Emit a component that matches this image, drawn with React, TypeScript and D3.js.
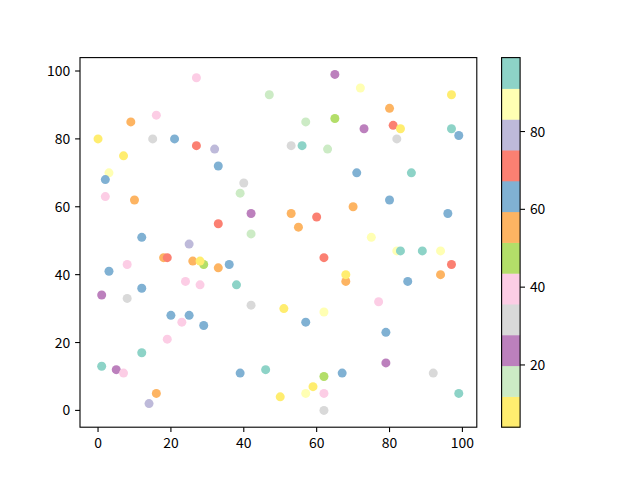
import { useEffect } from 'react';
import * as d3 from 'd3';

// scatter data: x, y and colour value c
const xs = [27, 16, 9, 0, 15, 21, 27, 32, 7, 33, 3, 2, 2, 10, 33, 12, 25, 65, 47, 57,
  65, 53, 56, 63, 40, 39, 42, 53, 60, 55, 42, 72, 97, 80, 73, 81, 83, 82, 97, 99,
  71, 86, 70, 80, 96, 75, 18, 19, 26, 29, 28, 33, 8, 3, 24, 28, 1, 8, 12, 20,
  25, 23, 29, 19, 12, 1, 5, 7, 16, 14, 36, 38, 42, 62, 68, 68, 51, 62, 57, 39,
  46, 62, 67, 59, 57, 62, 50, 62, 82, 83, 89, 94, 97, 94, 85, 77, 79, 79, 92, 99];
const ys = [98, 87, 85, 80, 80, 80, 78, 77, 75, 72, 70, 68, 63, 62, 55, 51, 49, 99, 93, 85,
  86, 78, 78, 77, 67, 64, 58, 58, 57, 54, 52, 95, 93, 89, 83, 84, 83, 80, 83, 81,
  70, 70, 60, 62, 58, 51, 45, 45, 44, 43, 44, 42, 43, 41, 38, 37, 34, 33, 36, 28,
  28, 26, 25, 21, 17, 13, 12, 11, 5, 2, 43, 37, 31, 45, 38, 40, 30, 29, 26, 11,
  12, 10, 11, 7, 5, 5, 4, 0, 47, 47, 47, 47, 43, 40, 38, 32, 23, 14, 11, 5];
const cs = [40, 38, 55, 4, 31, 62, 70, 80, 9, 64, 86, 61, 41, 57, 72, 65, 78, 23, 15, 17,
  47, 33, 94, 14, 29, 18, 25, 53, 69, 58, 13, 88, 7, 54, 21, 74, 10, 35, 97, 60,
  66, 92, 56, 63, 62, 85, 52, 73, 59, 45, 6, 55, 37, 67, 42, 39, 26, 30, 61, 64,
  60, 43, 65, 36, 93, 96, 22, 40, 57, 81, 62, 95, 34, 71, 53, 11, 5, 89, 63, 66,
  98, 49, 61, 8, 84, 41, 6, 28, 90, 99, 93, 87, 68, 58, 64, 38, 60, 27, 32, 96];

const xTicks = [0, 20, 40, 60, 80, 100];
const yTicks = [0, 20, 40, 60, 80, 100];
const cbTicks = [20, 40, 60, 80];

// Set3 reversed
const palette = ['#ffed6f', '#ccebc5', '#bc80bd', '#d9d9d9', '#fccde5', '#b3de69',
  '#fdb462', '#80b1d3', '#fb8072', '#bebada', '#ffffb3', '#8dd3c7'];

const W = 640;
const H = 480;
const left = 80;
const right = 476.8;
const top = 57.6;
const bottom = 427.2;
const cbLeft = 501.6;
const cbWidth = 18.5;
const font = '"Noto Sans CJK SC", "Noto Sans", sans-serif';
const fs = 13.9;
const tickLen = 4.9;

export default function App() {
  useEffect(() => {
    document.body.style.margin = '0';
  }, []);

  const x = d3.scaleLinear().domain([-4.95, 103.95]).range([left, right]);
  const y = d3.scaleLinear().domain([-4.95, 103.95]).range([bottom, top]);
  const cMin = d3.min(cs) as number;
  const cMax = d3.max(cs) as number;
  const color = d3.scaleQuantize<string>().domain([cMin, cMax]).range(palette);
  const cb = d3.scaleLinear().domain([cMin, cMax]).range([bottom, top]);
  const bandH = (bottom - top) / palette.length;

  return (
    <svg width={W} height={H} style={{ display: 'block', background: '#fff' }} fontFamily={font}>
      {/* points */}
      <g>
        {xs.map((xv, i) => (
          <circle key={i} cx={x(xv)} cy={y(ys[i])} r={4.5} fill={color(cs[i])} />
        ))}
      </g>

      {/* axes frame */}
      <rect x={left} y={top} width={right - left} height={bottom - top}
        fill="none" stroke="#000" strokeWidth={1.1} />

      {xTicks.map(t => (
        <g key={'x' + t}>
          <line x1={x(t)} x2={x(t)} y1={bottom} y2={bottom + tickLen} stroke="#000" strokeWidth={1.1} />
          <text x={x(t)} y={bottom + tickLen + 5.5} dy="0.76em" textAnchor="middle" fontSize={fs}>{t}</text>
        </g>
      ))}
      {yTicks.map(t => (
        <g key={'y' + t}>
          <line x1={left - tickLen} x2={left} y1={y(t)} y2={y(t)} stroke="#000" strokeWidth={1.1} />
          <text x={left - tickLen - 4.9} y={y(t)} dy="0.36em" textAnchor="end" fontSize={fs}>{t}</text>
        </g>
      ))}

      {/* colorbar */}
      <g>
        {palette.map((col, i) => (
          <rect key={i} x={cbLeft} y={bottom - (i + 1) * bandH} width={cbWidth} height={bandH + 0.5} fill={col} />
        ))}
        <rect x={cbLeft} y={top} width={cbWidth} height={bottom - top} fill="none" stroke="#000" strokeWidth={1.1} />
        {cbTicks.map(t => (
          <g key={'c' + t}>
            <line x1={cbLeft + cbWidth} x2={cbLeft + cbWidth + tickLen} y1={cb(t)} y2={cb(t)} stroke="#000" strokeWidth={1.1} />
            <text x={cbLeft + cbWidth + tickLen + 4.9} y={cb(t)} dy="0.36em" textAnchor="start" fontSize={fs}>{t}</text>
          </g>
        ))}
      </g>
    </svg>
  );
}
